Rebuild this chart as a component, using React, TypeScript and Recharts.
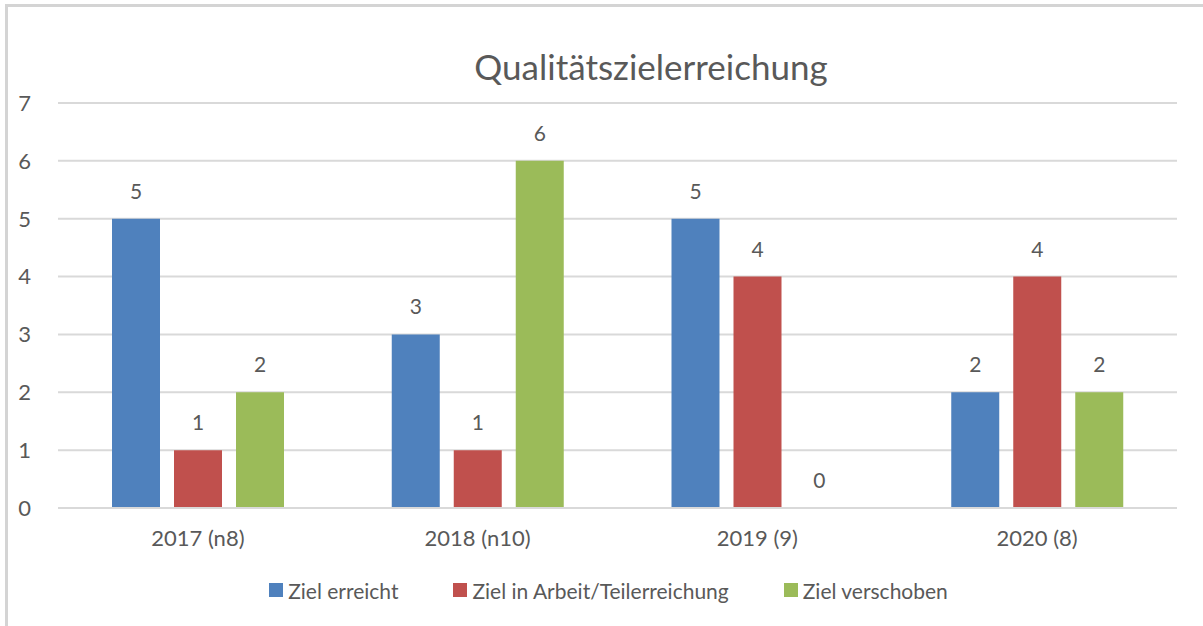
import { BarChart, Bar, XAxis, YAxis, CartesianGrid, Legend, LabelList, ReferenceDot } from 'recharts';

const categories = ['2017 (n8)', '2018 (n10)', '2019 (9)', '2020 (8)'];
const zielErreicht = [5, 3, 5, 2];
const zielInArbeit = [1, 1, 4, 4];
const zielVerschoben = [2, 6, 0, 2];
const yTicks = [0, 1, 2, 3, 4, 5, 6, 7];

const seriesNames = ['Ziel erreicht', 'Ziel in Arbeit/Teilerreichung', 'Ziel verschoben'];
const seriesColors = ['#4F81BD', '#C0504D', '#9BBB59'];
const seriesValues = [zielErreicht, zielInArbeit, zielVerschoben];

const FONT = 'Lato, "Open Sans", sans-serif';
const TEXT = '#595959';
const BAR_SIZE = 48;
const BAR_GAP = 14;

const data = categories.map((name, i) => ({
  name,
  erreicht: zielErreicht[i],
  arbeit: zielInArbeit[i],
  verschoben: zielVerschoben[i],
}));

const keys = ['erreicht', 'arbeit', 'verschoben'];

const renderLegend = () => (
  <div
    style={{
      display: 'flex',
      justifyContent: 'center',
      alignItems: 'center',
      gap: 55,
      fontFamily: FONT,
      fontSize: 21,
      color: TEXT,
      height: 40,
      paddingLeft: 40,
    }}
  >
    {seriesNames.map((n, i) => (
      <div key={n} style={{ display: 'flex', alignItems: 'center' }}>
        <span
          style={{
            display: 'inline-block',
            width: 14,
            height: 14,
            background: seriesColors[i],
            marginRight: 5,
          }}
        />
        {n}
      </div>
    ))}
  </div>
);

const renderValue = (p: any) => {
  const { x, y, width, value } = p;
  return (
    <text
      x={Number(x) + Number(width) / 2}
      y={Number(y) - 20}
      textAnchor="middle"
      fill={TEXT}
      fontFamily={FONT}
      fontSize={21}
    >
      {value}
    </text>
  );
};

// Balken mit Wert 0 haben keine Höhe, deren Beschriftung kommt über ReferenceDot
const zeroLabels = seriesValues.flatMap((vals, si) =>
  vals
    .map((v, ci) => ({ v, ci }))
    .filter((d) => d.v === 0)
    .map((d) => ({ category: categories[d.ci], series: si, value: d.v }))
);

export default function App() {
  return (
    <div
      style={{
        position: 'fixed',
        left: 0,
        top: 0,
        width: 1203,
        height: 626,
        overflow: 'hidden',
        background: '#fff',
      }}
    >
      <div
        style={{
          position: 'absolute',
          left: 0,
          top: 44,
          fontFamily: FONT,
          fontSize: 35,
          color: TEXT,
          lineHeight: '44px',
          width: 1203,
          height: 44,
        }}
      >
        <span style={{ position: 'absolute', left: 651, transform: 'translateX(-50%)', whiteSpace: 'nowrap' }}>
          Qualitätszielerreichung
        </span>
      </div>
      <div style={{ position: 'absolute', left: 0, top: 0 }}>
        <BarChart
          width={1203}
          height={626}
          data={data}
          margin={{ top: 103, right: 26, left: 0, bottom: 16 }}
          barGap={BAR_GAP}
          barSize={BAR_SIZE}
        >
          <CartesianGrid vertical={false} stroke="#D9D9D9" strokeWidth={2} />
          <XAxis
            dataKey="name"
            height={62}
            axisLine={{ stroke: '#D9D9D9', strokeWidth: 2 }}
            tickLine={false}
            tickMargin={16}
            tick={{ fill: TEXT, fontFamily: FONT, fontSize: 22 }}
          />
          <YAxis
            width={58}
            domain={[0, 7]}
            ticks={yTicks}
            axisLine={false}
            tickLine={false}
            tickMargin={21}
            tick={{ fill: TEXT, fontFamily: FONT, fontSize: 22 }}
          />
          <Legend verticalAlign="bottom" content={renderLegend} wrapperStyle={{ height: 40 }} />
          {keys.map((k, i) => (
            <Bar key={k} dataKey={k} name={seriesNames[i]} fill={seriesColors[i]} isAnimationActive={false}>
              <LabelList dataKey={k} content={renderValue} />
            </Bar>
          ))}
          {zeroLabels.map((z) => (
            <ReferenceDot
              key={`${z.category}-${z.series}`}
              x={z.category}
              y={z.value}
              r={0}
              fill="none"
              stroke="none"
              label={{
                value: String(z.value),
                position: 'top',
                offset: 20,
                dx: (z.series - 1) * (BAR_SIZE + BAR_GAP),
                fill: TEXT,
                fontFamily: FONT,
                fontSize: 21,
              }}
            />
          ))}
        </BarChart>
      </div>
      <div
        style={{
          position: 'absolute',
          left: 5,
          top: 4,
          width: 1300,
          height: 700,
          borderLeft: '3px solid #D4D4D4',
          borderTop: '3px solid #D4D4D4',
          pointerEvents: 'none',
          zIndex: 5,
        }}
      />
    </div>
  );
}
